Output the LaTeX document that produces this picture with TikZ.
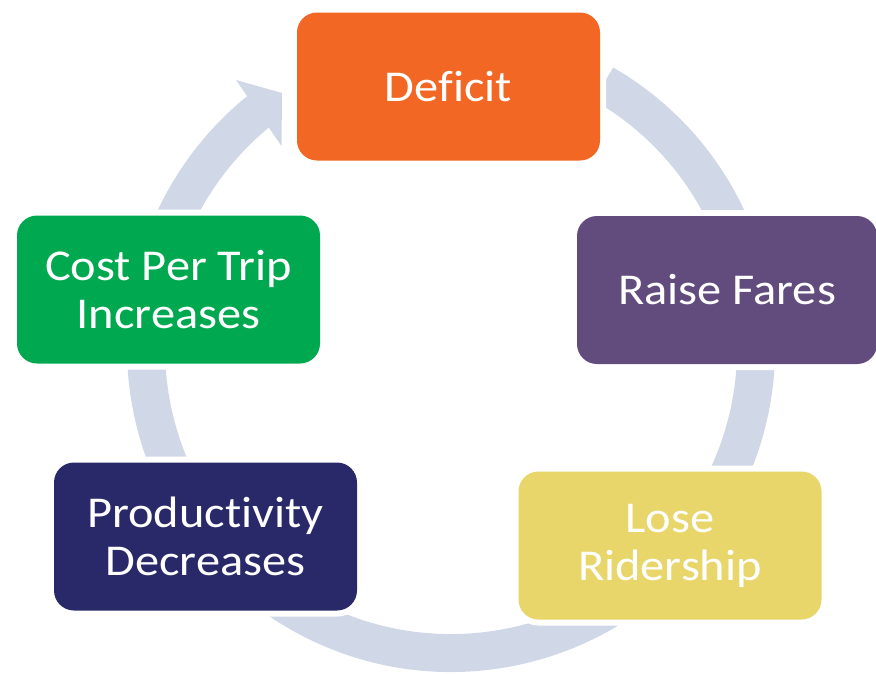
\documentclass[tikz,border=0pt]{standalone}
\usepackage{fontspec}
\setmainfont{Carlito}[FakeStretch=1.1, Ligatures={NoCommon}]
\usetikzlibrary{backgrounds}
\definecolor{ringc}{HTML}{D0D8E8}
\definecolor{cdef}{HTML}{F36724}
\definecolor{craise}{HTML}{614C7D}
\definecolor{close}{HTML}{E8D66B}
\definecolor{cprod}{HTML}{29296A}
\definecolor{ccost}{HTML}{00A94F}
\begin{document}
\begin{tikzpicture}[x=1pt,y=-1pt,
  stage/.style={rectangle, rounded corners=20pt, minimum width=303pt, minimum height=148pt,
    inner sep=0pt, align=center, text=white,
    font=\fontsize{44}{48}\selectfont,
    preaction={draw=white, line width=12pt}},
  ring/.style={draw=ringc, line width=38pt}]
\useasboundingbox (0,0) rectangle (876,673);
\node[stage, fill=cdef] (deficit) at (448.5,86.5) {Deficit};
\node[stage, fill=craise, minimum width=300pt] (raise) at (727,290) {Raise Fares};
\node[stage, fill=close] (lose) at (670,545.5) {Lose\\Ridership};
\node[stage, fill=cprod] (prod) at (205.5,536.5) {Productivity\\Decreases};
\node[stage, fill=ccost] (cost) at (168.5,289.5) {Cost Per Trip\\Increases};
\begin{scope}[on background layer]
  \coordinate (ctr) at (451,348);
  \draw[ring] ([shift={(-60:305)}]ctr) arc[start angle=-60, end angle=233, radius=305];
  \fill[ringc] (236,80) -- (282,93) -- (281.5,146) -- cycle;
\end{scope}
\end{tikzpicture}
\end{document}
